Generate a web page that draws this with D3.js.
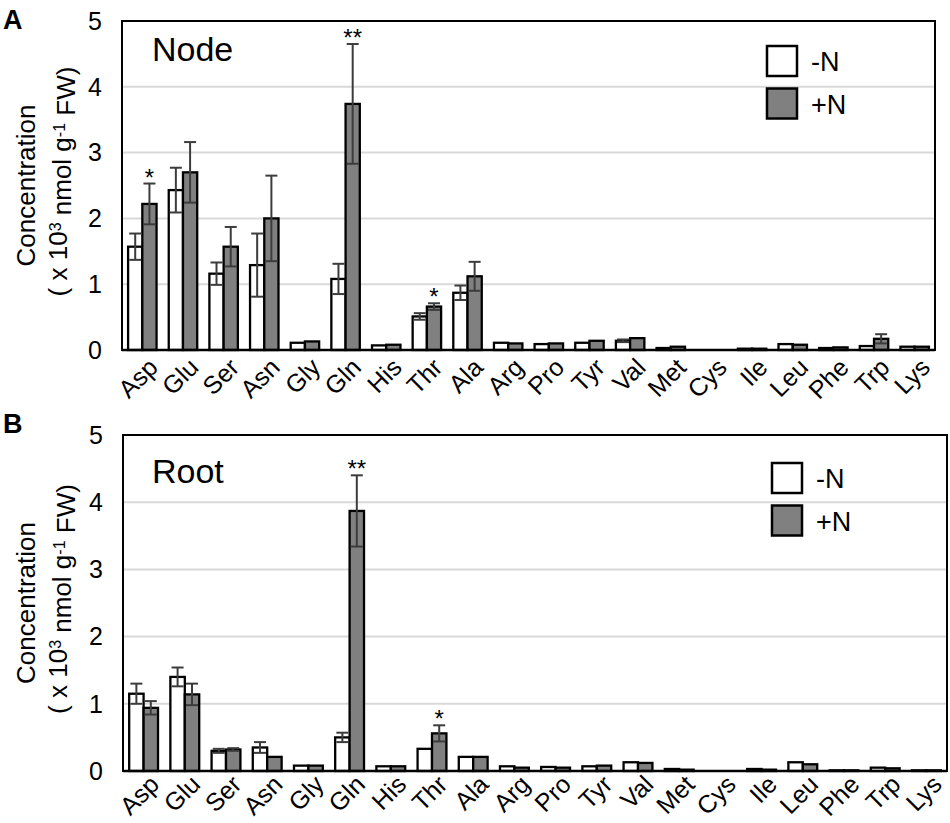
<!DOCTYPE html>
<html>
<head>
<meta charset="utf-8">
<script src="https://cdn.jsdelivr.net/npm/d3@7"></script>
<style>
  body { margin: 0; background: #fff; }
  text { font-family: "Liberation Sans", Arial, sans-serif; }
</style>
</head>
<body>
<div id="main"></div>
<script>
const aminoAcids = ["Asp", "Glu", "Ser", "Asn", "Gly", "Gln", "His", "Thr", "Ala", "Arg",
                    "Pro", "Tyr", "Val", "Met", "Cys", "Ile", "Leu", "Phe", "Trp", "Lys"];
const yTicks = [0, 1, 2, 3, 4, 5];
const seriesNames = ["-N", "+N"];

// Node (A)
const nodeMinusN    = [1.57, 2.43, 1.16, 1.29, 0.11, 1.08, 0.07, 0.51, 0.87, 0.11, 0.09, 0.11, 0.14, 0.03, 0, 0.02, 0.09, 0.03, 0.06, 0.05];
const nodeMinusNErr = [0.20, 0.34, 0.17, 0.48, 0.01, 0.23, 0.01, 0.05, 0.11, 0.01, 0.01, 0.01, 0.02, 0.005, 0, 0.005, 0.01, 0.005, 0.01, 0.005];
const nodePlusN     = [2.22, 2.70, 1.57, 2.00, 0.13, 3.74, 0.08, 0.66, 1.12, 0.10, 0.10, 0.14, 0.18, 0.05, 0, 0.02, 0.08, 0.04, 0.17, 0.05];
const nodePlusNErr  = [0.31, 0.46, 0.30, 0.65, 0.01, 0.91, 0.01, 0.05, 0.22, 0.01, 0.01, 0.01, 0.01, 0.005, 0, 0.005, 0.01, 0.005, 0.07, 0.005];
const nodeStars     = {"Asp": "*", "Gln": "**", "Thr": "*"};

// Root (B)
const rootMinusN    = [1.15, 1.40, 0.30, 0.35, 0.08, 0.50, 0.07, 0.33, 0.21, 0.07, 0.06, 0.07, 0.13, 0.03, 0, 0.03, 0.13, 0.01, 0.05, 0.01];
const rootMinusNErr = [0.15, 0.14, 0.03, 0.08, 0.005, 0.07, 0.005, 0.01, 0.01, 0.01, 0.005, 0.005, 0.01, 0.005, 0, 0.005, 0.01, 0, 0.005, 0];
const rootPlusN     = [0.94, 1.14, 0.32, 0.21, 0.08, 3.87, 0.07, 0.56, 0.21, 0.05, 0.05, 0.08, 0.12, 0.02, 0, 0.02, 0.10, 0.01, 0.04, 0.01];
const rootPlusNErr  = [0.10, 0.16, 0.02, 0.01, 0.005, 0.53, 0.005, 0.12, 0.01, 0.005, 0.005, 0.005, 0.01, 0.005, 0, 0.005, 0.01, 0, 0.005, 0];
const rootStars     = {"Gln": "**", "Thr": "*"};

const fills = {"-N": "#ffffff", "+N": "#808080"};

const svg = d3.select("#main").append("svg")
    .attr("width", 950)
    .attr("height", 823);

function drawPanel(opts) {
    const g = svg.append("g");
    const {left, right, top, bottom} = opts;

    const x = d3.scaleBand()
        .domain(aminoAcids)
        .range([left, right])
        .paddingInner(0.3)
        .paddingOuter(0.15);
    const xSub = d3.scaleBand()
        .domain(seriesNames)
        .range([0, x.bandwidth()]);
    const y = d3.scaleLinear()
        .domain([0, 5])
        .range([bottom, top]);

    // gridlines
    g.selectAll(".grid")
        .data(yTicks.filter(d => d > 0 && d < 5))
        .enter().append("line")
        .attr("x1", left).attr("x2", right)
        .attr("y1", d => y(d)).attr("y2", d => y(d))
        .attr("stroke", "#d9d9d9")
        .attr("stroke-width", 2);

    // y tick labels
    g.selectAll(".ytick")
        .data(yTicks)
        .enter().append("text")
        .attr("x", left - 20)
        .attr("y", d => y(d))
        .attr("dy", "0.35em")
        .attr("text-anchor", "end")
        .style("font-size", "25px")
        .text(d => d);

    // bars
    const rows = aminoAcids.map((aa, i) => ({
        aa: aa,
        vals: [
            {s: "-N", v: opts.minus[i], e: opts.minusErr[i]},
            {s: "+N", v: opts.plus[i], e: opts.plusErr[i]}
        ]
    }));

    const groups = g.selectAll(".grp")
        .data(rows)
        .enter().append("g")
        .attr("transform", d => `translate(${x(d.aa)},0)`);

    groups.selectAll("rect")
        .data(d => d.vals.filter(v => v.v > 0))
        .enter().append("rect")
        .attr("x", d => xSub(d.s))
        .attr("width", xSub.bandwidth())
        .attr("y", d => y(d.v))
        .attr("height", d => y(0) - y(d.v))
        .attr("fill", d => fills[d.s])
        .attr("stroke", "#000")
        .attr("stroke-width", 2.3);

    // error bars
    const cap = 6;
    const eb = groups.selectAll(".err")
        .data(d => d.vals.filter(v => v.e > 0.015))
        .enter().append("g")
        .attr("stroke", "#3c3c3c")
        .attr("stroke-width", 2);
    eb.append("line")
        .attr("x1", d => xSub(d.s) + xSub.bandwidth() / 2)
        .attr("x2", d => xSub(d.s) + xSub.bandwidth() / 2)
        .attr("y1", d => y(d.v - d.e))
        .attr("y2", d => y(d.v + d.e));
    eb.append("line")
        .attr("x1", d => xSub(d.s) + xSub.bandwidth() / 2 - cap)
        .attr("x2", d => xSub(d.s) + xSub.bandwidth() / 2 + cap)
        .attr("y1", d => y(d.v + d.e))
        .attr("y2", d => y(d.v + d.e));
    eb.append("line")
        .attr("x1", d => xSub(d.s) + xSub.bandwidth() / 2 - cap)
        .attr("x2", d => xSub(d.s) + xSub.bandwidth() / 2 + cap)
        .attr("y1", d => y(d.v - d.e))
        .attr("y2", d => y(d.v - d.e));

    // significance stars on +N
    groups.filter(d => opts.stars[d.aa])
        .append("text")
        .attr("x", xSub("+N") + xSub.bandwidth() / 2)
        .attr("y", d => {
            const i = aminoAcids.indexOf(d.aa);
            return y(opts.plus[i] + opts.plusErr[i]) + 2;
        })
        .attr("text-anchor", "middle")
        .style("font-size", "24px")
        .text(d => opts.stars[d.aa]);

    // frame
    g.append("rect")
        .attr("x", left).attr("y", top)
        .attr("width", right - left).attr("height", bottom - top)
        .attr("fill", "none")
        .attr("stroke", "#000")
        .attr("stroke-width", 2);
    g.append("line")
        .attr("x1", left).attr("x2", right)
        .attr("y1", bottom).attr("y2", bottom)
        .attr("stroke", "#000")
        .attr("stroke-width", 2.5);

    // x labels
    g.selectAll(".xlab")
        .data(aminoAcids)
        .enter().append("text")
        .attr("transform", d => `translate(${x(d) + x.bandwidth() / 2 + 17},${bottom + opts.labelDy}) rotate(-45)`)
        .attr("text-anchor", "end")
        .style("font-size", "25px")
        .text(d => d);

    // y axis title
    const cy = (top + bottom) / 2;
    g.append("text")
        .attr("transform", `translate(35,${cy}) rotate(-90)`)
        .attr("text-anchor", "middle")
        .style("font-size", "26px")
        .text("Concentration");
    const t2 = g.append("text")
        .attr("transform", `translate(67,${cy - 4}) rotate(-90)`)
        .attr("text-anchor", "middle")
        .style("font-size", "26px");
    t2.append("tspan").text("( x 10");
    t2.append("tspan").attr("dy", "-0.4em").style("font-size", "16px").text("3");
    t2.append("tspan").attr("dy", "0.4em").text(" nmol g");
    t2.append("tspan").attr("dy", "-0.4em").style("font-size", "16px").text("-1");
    t2.append("tspan").attr("dy", "0.4em").text(" FW)");

    // panel title and letter
    g.append("text")
        .attr("x", opts.titleX).attr("y", opts.titleY)
        .style("font-size", "34px")
        .text(opts.title);
    g.append("text")
        .attr("x", 3).attr("y", opts.letterY)
        .style("font-size", "27px")
        .style("font-weight", "bold")
        .text(opts.letter);

    // legend
    const lg = g.append("g")
        .attr("transform", `translate(${opts.legendX},${opts.legendY})`);
    const li = lg.selectAll("g")
        .data(seriesNames)
        .enter().append("g")
        .attr("transform", (d, i) => `translate(0,${i * 42.5})`);
    li.append("rect")
        .attr("width", 30).attr("height", 30)
        .attr("fill", d => fills[d])
        .attr("stroke", "#000")
        .attr("stroke-width", 2.5);
    li.append("text")
        .attr("x", 44).attr("y", 25)
        .style("font-size", "27px")
        .text(d => d);
}

drawPanel({
    left: 122, right: 935, top: 21, bottom: 350,
    minus: nodeMinusN, minusErr: nodeMinusNErr,
    plus: nodePlusN, plusErr: nodePlusNErr,
    stars: nodeStars,
    title: "Node", titleX: 152, titleY: 61,
    letter: "A", letterY: 29,
    legendX: 767, legendY: 46,
    labelDy: 19
});

drawPanel({
    left: 123, right: 947, top: 435, bottom: 771,
    minus: rootMinusN, minusErr: rootMinusNErr,
    plus: rootPlusN, plusErr: rootPlusNErr,
    stars: rootStars,
    title: "Root", titleX: 152, titleY: 483,
    letter: "B", letterY: 433,
    legendX: 772, legendY: 463,
    labelDy: 15
});
</script>
</body>
</html>
